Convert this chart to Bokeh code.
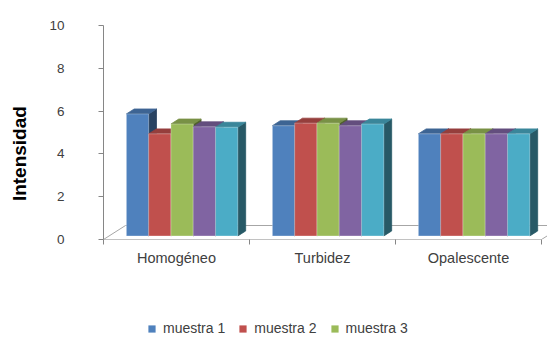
from bokeh.plotting import figure
from bokeh.layouts import column
from bokeh.models import (Range1d, FixedTicker, Legend, LegendItem,
                          ColumnDataSource)
from bokeh.embed import file_html
from bokeh.resources import INLINE

# ---- data -------------------------------------------------------------
categories = ["Homogéneo", "Turbidez", "Opalescente"]
series_names = ["muestra 1", "muestra 2", "muestra 3", "muestra 4", "muestra 5"]
muestra_1 = [5.70, 5.15, 4.77]
muestra_2 = [4.77, 5.27, 4.77]
muestra_3 = [5.23, 5.27, 4.77]
muestra_4 = [5.10, 5.15, 4.77]
muestra_5 = [5.08, 5.23, 4.77]
y_ticks = [0, 2, 4, 6, 8, 10]
legend_shown = ["muestra 1", "muestra 2", "muestra 3"]

series_values = [muestra_1, muestra_2, muestra_3, muestra_4, muestra_5]
front_colors = ["#4F81BD", "#C0504D", "#9BBB59", "#8064A2", "#4BACC6"]


def shade(hex_color, k):
    r, g, b = (int(hex_color[i:i + 2], 16) for i in (1, 3, 5))
    return "#%02x%02x%02x" % (int(r * k), int(g * k), int(b * k))


top_colors = [shade(c, 0.78) for c in front_colors]
side_colors = [shade(c, 0.52) for c in front_colors]

# ---- oblique 3-D projection (depth z in 0..1 across the floor) ----------
SX = 0.1507   # horizontal shift per unit depth, in category units
SY = 0.654    # vertical shift per unit depth, in value units
BAR_W = 0.1527
Z_FRONT = 0.255
Z_BACK = 0.61


def proj(x, y, z):
    return x + z * SX, y + z * SY


def face(points):
    pts = [proj(*pt) for pt in points]
    return [p[0] for p in pts], [p[1] for p in pts]


xs, ys, fills, lines, alphas = [], [], [], [], []
n_series = len(series_values)
for ci, _ in enumerate(categories):
    for si, vals in enumerate(series_values):
        v = vals[ci]
        x0 = ci + 0.5 - n_series * BAR_W / 2 + si * BAR_W
        x1 = x0 + BAR_W
        # right side face
        fx, fy = face([(x1, 0, Z_FRONT), (x1, v, Z_FRONT), (x1, v, Z_BACK), (x1, 0, Z_BACK)])
        xs.append(fx); ys.append(fy); fills.append(side_colors[si]); lines.append(side_colors[si]); alphas.append(1.0)
        # top face
        fx, fy = face([(x0, v, Z_FRONT), (x1, v, Z_FRONT), (x1, v, Z_BACK), (x0, v, Z_BACK)])
        xs.append(fx); ys.append(fy); fills.append(top_colors[si]); lines.append(top_colors[si]); alphas.append(1.0)
        # front face
        fx, fy = face([(x0, 0, Z_FRONT), (x1, 0, Z_FRONT), (x1, v, Z_FRONT), (x0, v, Z_FRONT)])
        xs.append(fx); ys.append(fy); fills.append(front_colors[si]); lines.append("#ffffff"); alphas.append(0.35)

source = ColumnDataSource(dict(xs=xs, ys=ys, fill=fills, line=lines, la=alphas))

n_cat = len(categories)
p = figure(width=547, height=290, output_backend="svg", toolbar_location=None,
           x_range=Range1d(0, n_cat + 6 / 146), y_range=Range1d(0, 10),
           min_border_left=103, min_border_right=0, min_border_top=25,
           min_border_bottom=51)
p.outline_line_color = None
p.grid.visible = False
p.background_fill_color = "white"
p.border_fill_color = "white"

# floor outline
floor_grey = "#A6A6A6"
fx, fy = face([(0, 0, 1), (n_cat, 0, 1)])
p.line(fx, fy, line_color=floor_grey, line_width=1)
fx, fy = face([(0, 0, 0), (0, 0, 1)])
p.line(fx, fy, line_color=floor_grey, line_width=1)
fx, fy = face([(n_cat, 0, 0), (n_cat, 0, 1)])
p.line(fx, fy, line_color=floor_grey, line_width=1)
fx, fy = face([(0, 0, 0), (n_cat, 0, 0)])
p.line(fx, fy, line_color="#868686", line_width=1)

p.patches("xs", "ys", source=source, fill_color="fill", line_color="line",
          line_alpha="la", line_width=0.8)

# axes
text_color = "#404040"
xa = p.xaxis[0]
xa.ticker = FixedTicker(ticks=[i + 0.5 for i in range(n_cat)],
                        minor_ticks=list(range(n_cat + 1)))
xa.major_label_overrides = {i + 0.5: c for i, c in enumerate(categories)}
xa.axis_line_color = None
xa.major_tick_out = 0
xa.major_tick_in = 0
xa.minor_tick_out = 5
xa.minor_tick_in = 0
xa.minor_tick_line_color = "#868686"
xa.major_label_standoff = 5
xa.major_label_text_font = "Liberation Sans"
xa.major_label_text_font_size = "14.5px"
xa.major_label_text_color = text_color

ya = p.yaxis[0]
ya.ticker = FixedTicker(ticks=y_ticks, minor_ticks=[])
ya.axis_line_color = "#868686"
ya.major_tick_line_color = "#868686"
ya.major_tick_out = 5
ya.major_tick_in = 0
ya.major_label_standoff = 34
ya.major_label_text_font = "Liberation Sans"
ya.major_label_text_font_size = "13.5px"
ya.major_label_text_color = text_color
# trailing no-break spaces move the centred title a little lower
ya.axis_label = "Intensidad" + "\u00a0" * 8
ya.axis_label_standoff = 16
ya.axis_label_text_font = "Liberation Sans"
ya.axis_label_text_font_style = "bold"
ya.axis_label_text_font_size = "19px"
ya.axis_label_text_color = "#000000"

# ---- legend strip under the chart --------------------------------------
leg = figure(width=547, height=48, output_backend="svg", toolbar_location=None,
             x_range=Range1d(0, 1), y_range=Range1d(0, 1),
             x_axis_location=None, y_axis_location=None,
             min_border=0, min_border_left=0, min_border_right=0,
             min_border_top=0, min_border_bottom=0)
leg.outline_line_color = None
leg.grid.visible = False
leg.background_fill_color = "white"
leg.border_fill_color = "white"

nan = float("nan")
items = []
for name in legend_shown:
    si = series_names.index(name)
    # swatch-only renderer: a single undrawn quad carrying the series colour
    r = leg.quad(left=[nan], right=[nan], top=[nan], bottom=[nan],
                 fill_color=front_colors[si], line_color=None)
    items.append(LegendItem(label=name, renderers=[r], index=0))

legend = Legend(items=items, location=(44, 2), orientation="horizontal",
                glyph_width=9, glyph_height=9, label_height=14,
                label_standoff=7, spacing=13, padding=2, margin=0,
                label_text_font="Liberation Sans", label_text_font_size="14px",
                label_text_color=text_color, border_line_color=None,
                background_fill_alpha=0)
leg.add_layout(legend)

open("out.html", "w").write(file_html(column(p, leg, spacing=0), INLINE))
